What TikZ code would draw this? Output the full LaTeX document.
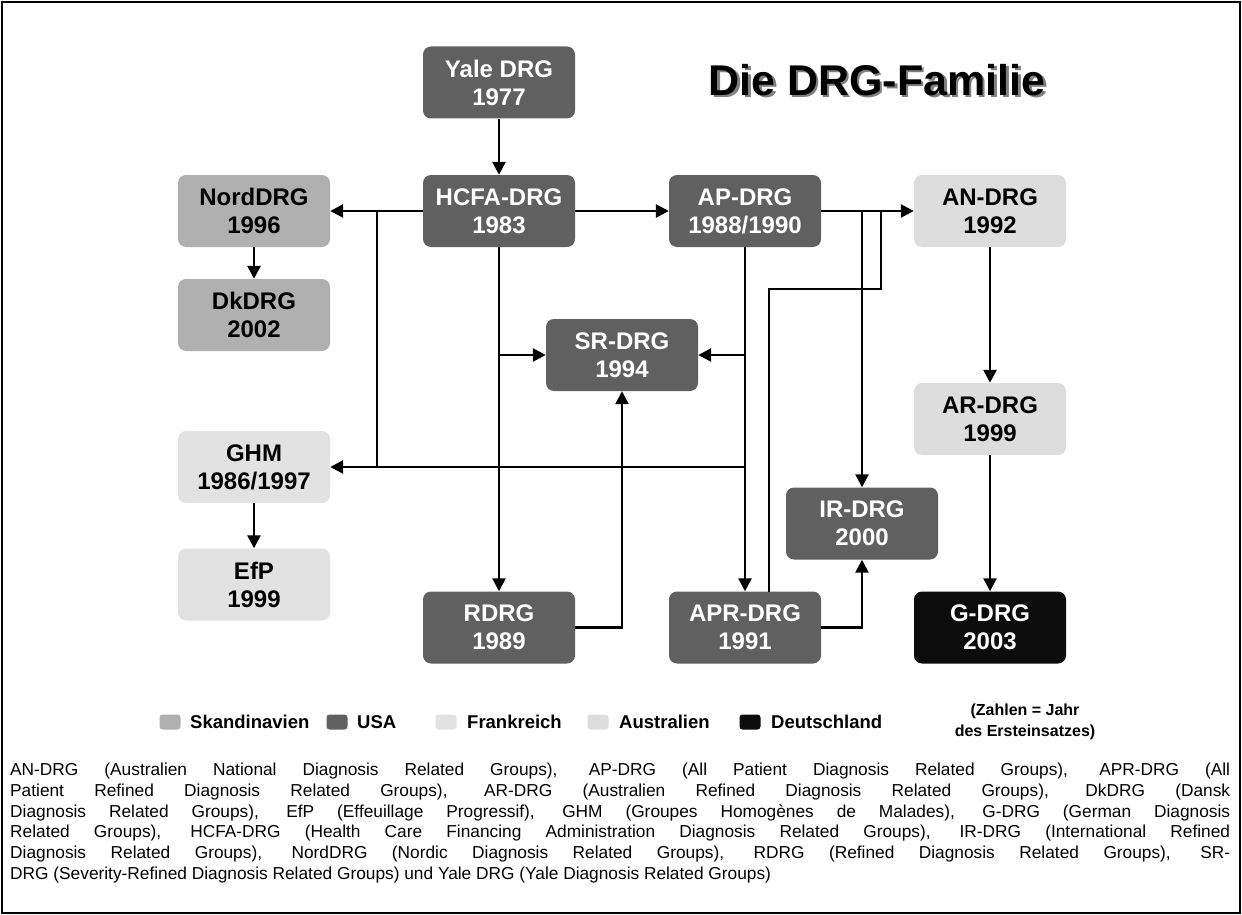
\documentclass[tikz,border=0pt]{standalone}
\usepackage{fontspec}
\setmainfont{Liberation Sans}
\usetikzlibrary{arrows.meta}

\definecolor{usagray}{RGB}{96,96,96}
\definecolor{skagray}{RGB}{176,176,176}
\definecolor{fragray}{RGB}{226,226,226}
\definecolor{ausgray}{RGB}{221,221,221}
\definecolor{deublack}{RGB}{12,12,12}

\tikzset{
  drgbox/.style={rounded corners=8pt, minimum width=152pt, minimum height=72pt,
    inner sep=0pt, align=center, font=\bfseries\fontsize{24}{28}\selectfont},
  usa/.style={drgbox, fill=usagray, text=white},
  ska/.style={drgbox, fill=skagray},
  fra/.style={drgbox, fill=fragray},
  aus/.style={drgbox, fill=ausgray},
  deu/.style={drgbox, fill=deublack, text=white},
  link/.style={line width=2.6pt},
  arr/.style={link, -{Triangle[length=13pt,width=13pt]}},
  swatch/.style={rounded corners=3pt, minimum width=21pt, minimum height=15pt, inner sep=0pt},
  legtext/.style={anchor=west, inner sep=0pt, font=\bfseries\fontsize{18.5}{22}\selectfont}
}

\begin{document}
\begin{tikzpicture}[x=1pt,y=-1pt]
\useasboundingbox (0,0) rectangle (1242,915);
\draw[line width=1.5pt] (2,2) rectangle (1240,913);

% title with shadow
\node (title) [font=\bfseries\fontsize{43}{50}\selectfont] at (877,81)
  {\rlap{\kern2.5pt\raisebox{-2.5pt}{\textcolor{gray}{Die DRG-Familie}}}Die DRG-Familie};

% USA
\node (yale) [usa] at (499,82.5) {Yale DRG\\1977};
\node (hcfa) [usa] at (499,211) {HCFA-DRG\\1983};
\node (ap)   [usa] at (745,211) {AP-DRG\\1988/1990};
\node (sr)   [usa] at (622,355) {SR-DRG\\1994};
\node (ir)   [usa] at (862,523.5) {IR-DRG\\2000};
\node (rdrg) [usa] at (499,627.5) {RDRG\\1989};
\node (apr)  [usa] at (745,627.5) {APR-DRG\\1991};
% Skandinavien
\node (nord) [ska] at (254,211) {NordDRG\\1996};
\node (dk)   [ska] at (254,315) {DkDRG\\2002};
% Frankreich
\node (ghm)  [fra] at (254,467) {GHM\\1986/1997};
\node (efp)  [fra] at (254,584.5) {EfP\\1999};
% Australien
\node (an)   [aus] at (990,211) {AN-DRG\\1992};
\node (ar)   [aus] at (990,419) {AR-DRG\\1999};
% Deutschland
\node (gdrg) [deu] at (990,627.5) {G-DRG\\2003};

% junctions
\coordinate (hsplit) at (377,211);
\coordinate (hdown)  at (377,467);
\coordinate (gline)  at (745,467);
\coordinate (apup)   at (769,592);
\coordinate (aptop)  at (881,289);
\coordinate (anjoin) at (881,211);

% connectors
\draw[arr] (yale) -- (hcfa);
\draw[arr] (hcfa) -- (ap);
\draw[arr] (hcfa) -- (nord);
\draw[link] (hsplit) -- (hdown);
\draw[arr] (gline) -- (ghm);
\draw[arr] (hcfa) -- (rdrg);
\draw[arr] (hcfa.south |- sr.west) -- (sr.west);
\draw[arr] (ap) -- (apr);
\draw[arr] (ap.south |- sr.east) -- (sr.east);
\draw[arr] (ap) -- (an);
\draw[arr] (ir.north |- ap.east) -- (ir.north);
\draw[link] (apup) |- (aptop) -- (anjoin);
\draw[arr] (rdrg.east) -| (sr.south);
\draw[arr] (apr.east) -| (ir.south);
\draw[arr] (an) -- (ar);
\draw[arr] (ar) -- (gdrg);
\draw[arr] (nord) -- (dk);
\draw[arr] (ghm) -- (efp);

% legend
\node (lska) [swatch, fill=skagray] at (170,722) {};
\node [legtext] at (190,722) {Skandinavien};
\node (lusa) [swatch, fill=usagray] at (337,722) {};
\node [legtext] at (357,722) {USA};
\node (lfra) [swatch, fill=fragray] at (446,722) {};
\node [legtext] at (467,722) {Frankreich};
\node (laus) [swatch, fill=ausgray] at (598,722) {};
\node [legtext] at (619,722) {Australien};
\node (ldeu) [swatch, fill=deublack] at (750,722) {};
\node [legtext] at (771,722) {Deutschland};
\node (note) [align=center, font=\bfseries\fontsize{16}{21}\selectfont] at (1025,722) {(Zahlen = Jahr\\des Ersteinsatzes)};

% abbreviations
\node (abbr) [anchor=north west, inner sep=0pt, text width=1220pt, align=justify,
  font=\fontsize{17.3}{20.7}\selectfont] at (10,763) {%
AN-DRG (Australien National Diagnosis Related Groups), AP-DRG (All Patient Diagnosis Related Groups), APR-DRG (All\linebreak
Patient Refined Diagnosis Related Groups), AR-DRG (Australien Refined Diagnosis Related Groups), DkDRG (Dansk\linebreak
Diagnosis Related Groups), EfP (Effeuillage Progressif), GHM (Groupes Homogènes de Malades), G-DRG (German Diagnosis\linebreak
Related Groups), HCFA-DRG (Health Care Financing Administration Diagnosis Related Groups), IR-DRG (International Refined\linebreak
Diagnosis Related Groups), NordDRG (Nordic Diagnosis Related Groups), RDRG (Refined Diagnosis Related Groups), SR-\linebreak
DRG (Severity-Refined Diagnosis Related Groups) und Yale DRG (Yale Diagnosis Related Groups)};
\end{tikzpicture}
\end{document}
